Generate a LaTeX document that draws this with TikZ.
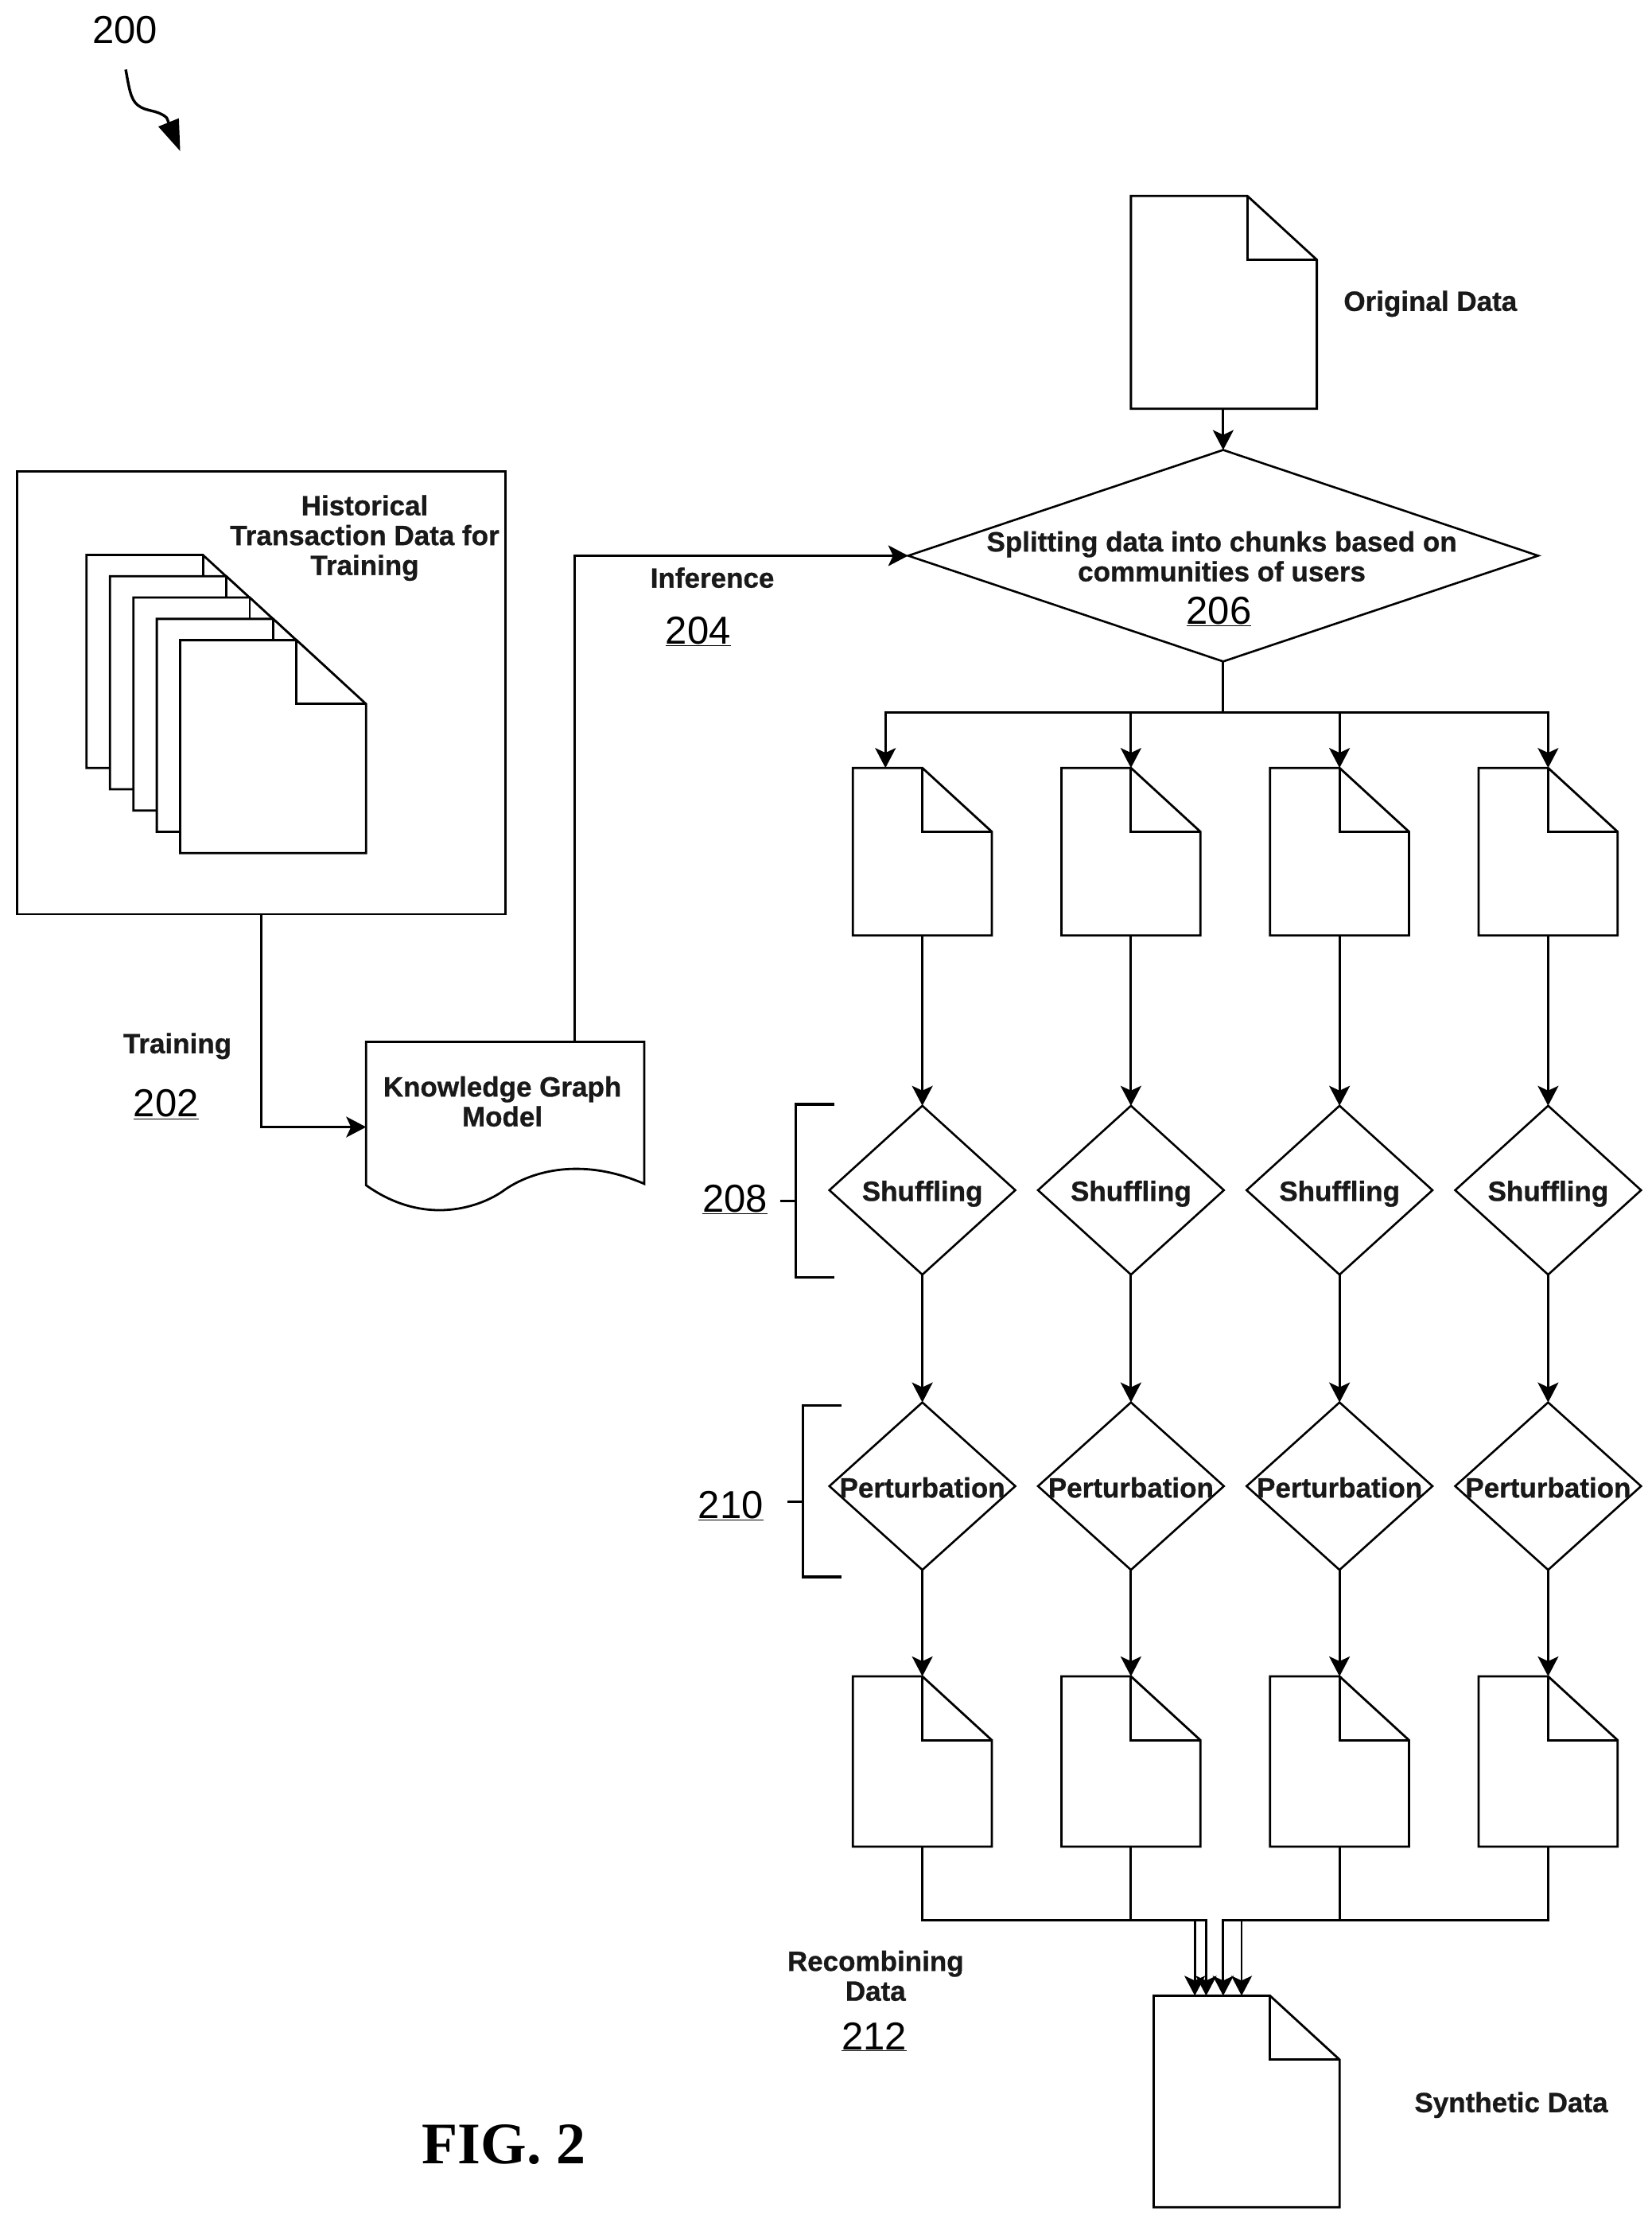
\documentclass[tikz,border=0pt]{standalone}
\usepackage{fontspec}
\setmainfont{Liberation Sans}[BoldFeatures={FakeBold=0.8}]
\newfontfamily\serifbold{Liberation Serif}
\usetikzlibrary{arrows.meta,shapes.geometric,calc}
\tikzset{
  x=1.784pt,y=-1.784pt,
  docline/.style={draw=black,line width=2.8pt,fill=white,line join=miter},
  docanchor/.style={rectangle,inner sep=0pt,outer sep=0pt},
  conn/.style={draw=black,line width=2.8pt,-{Stealth[length=25pt,width=26pt,inset=6pt]}},
  plainline/.style={draw=black,line width=2.8pt},
  brack/.style={draw=black,line width=3.2pt},
  diam/.style={diamond,draw=black,line width=2.6pt,inner sep=0pt,outer sep=0pt,fill=white},
  lab/.style={font=\fontsize{35}{37.5}\selectfont\bfseries,align=center,inner sep=0pt,text=black!90},
  num/.style={font=\fontsize{49}{55}\selectfont,inner sep=0pt},
}
\newcommand{\docpage}[7]{%
  \draw[docline] (#2,#3) -- (#6,#3) -- (#4,#7) -- (#4,#5) -- (#2,#5) -- cycle;
  \draw[docline,fill=none] (#6,#3) -- (#6,#7) -- (#4,#7);
  \pgfmathsetmacro\dw{(#4-#2)*1.784}\pgfmathsetmacro\dh{(#5-#3)*1.784}
  \node[docanchor,minimum width=\dw pt,minimum height=\dh pt] (#1) at ({(#2+#4)/2},{(#3+#5)/2}) {};
}
\begin{document}
\begin{tikzpicture}
\useasboundingbox (0,0) rectangle (1163.7,1560.5);
\fill[white] (0,0) rectangle (1163.7,1560.5);

% ref numeral and squiggle
\node[num] (n200) at (88,21) {200};
\coordinate (sq0) at (88.6,49);
\coordinate (sq1) at (127,106.5);
\draw[draw=black,line width=3.4pt,-{Triangle[length=39pt,width=27pt]}] (sq0) .. controls (91,62) and (92,70) .. (97,74) .. controls (103,79) and (111,77) .. (117.5,83) -- (sq1);

% training data box
\node[rectangle,draw=black,line width=2.8pt,inner sep=0pt,minimum width=344*1.784pt,minimum height=312*1.784pt] (box) at (184,488) {};
\node[lab] (histlab) at (257,379) {Historical\\Transaction Data for\\Training};
\docpage{h1}{61}{391}{192}{541}{143}{436}
\docpage{h2}{77.5}{406}{208.5}{556}{159.5}{451}
\docpage{h3}{94}{421}{225}{571}{176}{466}
\docpage{h4}{110.5}{436}{241.5}{586}{192.5}{481}
\docpage{h5}{127}{451}{258}{601}{209}{496}

% knowledge graph
\draw[docline] (258,734) -- (454,734) -- (454,834)
  .. controls (410,815) and (375,825) .. (356,838)
  .. controls (340,850) and (300,865) .. (258,835) -- cycle;
\coordinate (kgin) at (258,794);
\coordinate (kgtop) at (405,734);
\node[lab] (kglab) at (354,776) {Knowledge Graph\\Model};
\draw[conn] (box.south) |- (kgin);

\node[lab] (trainlab) at (125,737) {Training};
\node[num] (n202) at (117,778) {\underline{202}};
\node[lab] (inflab) at (502,407) {Inference};
\node[num] (n204) at (492,445) {\underline{204}};

% original data & split
\docpage{orig}{797}{138}{928}{288}{879}{183}
\node[lab] (origlab) at (1008,214) {Original Data};
\node[diam,minimum width=444*1.784pt,minimum height=149*1.784pt] (big) at (862,391.5) {};
\node[lab] (biglab) at (861,392) {Splitting data into chunks based on\\communities of users};
\node[num] (n206) at (859,431) {\underline{206}};
\coordinate (origout) at (862,288);
\draw[conn] (origout) -- (big.north);
\draw[conn] (kgtop) |- (big.west);

\coordinate (busj) at (862,502);
\draw[plainline] (big.south) -- (busj);

\foreach \i/\cx/\tx in {1/650/624,2/797/797,3/944/944,4/1091/1091}{
  \coordinate (t\i) at (\tx,541);
  \draw[conn] (busj) -| (t\i);
  \docpage{a\i}{\cx-49}{541}{\cx+49}{659}{\cx}{586}
  \node[diam,minimum width=131*1.784pt,minimum height=119*1.784pt] (s\i) at (\cx,838.5) {};
  \node[lab] (sl\i) at (\cx,841) {Shuffling};
  \node[diam,minimum width=131*1.784pt,minimum height=118*1.784pt] (p\i) at (\cx,1047) {};
  \node[lab] (pl\i) at (\cx,1048) {Perturbation};
  \docpage{b\i}{\cx-49}{1181}{\cx+49}{1301}{\cx}{1226}
  \coordinate (bo\i) at (\cx,1301);
  \coordinate (aout\i) at (\cx,659);
  \coordinate (tb\i) at (\cx,1181);
  \draw[conn] (aout\i) -- (s\i.north);
  \draw[conn] (s\i.south) -- (p\i.north);
  \draw[conn] (p\i.south) -- (tb\i);
}

% recombination
\docpage{synth}{813}{1406}{944}{1555}{895}{1451}
\foreach \i/\mx in {1/842,2/850,3/862,4/875}{
  \coordinate (bus\i) at (\mx,1353);
  \coordinate (syn\i) at (\mx,1406);
  \draw[conn] (bo\i) |- (bus\i) -- (syn\i);
}

\node[lab] (reclab) at (617,1392) {Recombining\\Data};
\node[num] (n212) at (616,1435) {\underline{212}};
\node[lab] (synthlab) at (1065,1483) {Synthetic Data};

% brackets
\coordinate (b8a) at (588,778);
\coordinate (b8b) at (588,900);
\coordinate (b8t) at (550,846);
\draw[brack] (b8a) -- (561,778) -- (561,900) -- (b8b);
\draw[brack] (b8t) -- (561,846);
\node[num] (n208) at (518,845) {\underline{208}};
\coordinate (b0a) at (593,990);
\coordinate (b0b) at (593,1111);
\coordinate (b0t) at (555,1058);
\draw[brack] (b0a) -- (566,990) -- (566,1111) -- (b0b);
\draw[brack] (b0t) -- (566,1058);
\node[num] (n210) at (515,1061) {\underline{210}};

\node[inner sep=0pt,font=\fontsize{74}{80}\selectfont\serifbold\bfseries] (fig) at (355,1511) {FIG. 2};
\end{tikzpicture}
\end{document}
